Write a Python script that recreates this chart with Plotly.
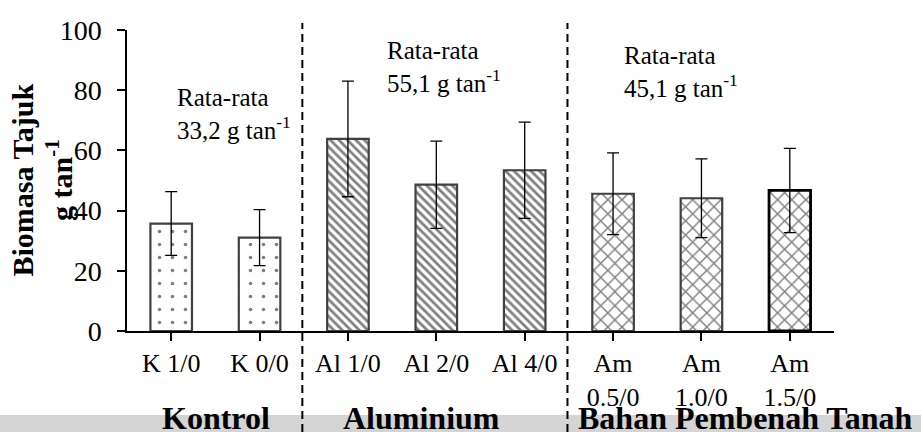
import plotly.graph_objects as go

categories = ["K 1/0", "K 0/0", "Al 1/0", "Al 2/0", "Al 4/0",
              "Am<br>0.5/0", "Am<br>1.0/0", "Am<br>1.5/0"]
biomass = [35.7, 31.0, 63.8, 48.6, 53.4, 45.6, 44.1, 46.7]
err = [10.6, 9.3, 19.2, 14.5, 16.0, 13.6, 13.1, 14.0]
patterns = [".", ".", "\\", "\\", "\\", "x", "x", "x"]
group_names = ["Kontrol", "Aluminium", "Bahan Pembenah Tanah"]
group_means = ["33,2", "55,1", "45,1"]
group_bounds = [2, 5]  # category index where a new group starts

FONT = "Liberation Serif, Times New Roman, serif"
W, H = 921, 432
ML, MR, MT, MB = 127, 87, 30, 101
PW, PH = W - ML - MR, H - MT - MB


def px_x(p):
    return (p - ML) / PW


def px_y(p):
    return (H - MB - p) / PH


sizes = {".": 13, "\\": 6, "x": 10}
solid = {".": 0.06, "\\": 0.45, "x": 0.27}

fig = go.Figure()
fig.add_trace(go.Bar(
    x=list(range(len(categories))),
    y=biomass,
    width=0.47,
    marker=dict(
        color="white",
        line=dict(color=["#404040"] * 7 + ["#000000"], width=[2.2] * 7 + [2.8]),
        pattern=dict(shape=patterns,
                     size=[sizes[p] for p in patterns],
                     solidity=[solid[p] for p in patterns],
                     fgcolor="black", bgcolor="white", fillmode="overlay"),
    ),
    error_y=dict(type="data", array=err, visible=True, color="black",
                 thickness=1.3, width=6),
    showlegend=False,
))

shapes = []
# light band at bottom of the picture
shapes.append(dict(type="rect", xref="paper", yref="paper",
                   x0=px_x(0), x1=px_x(W), y0=px_y(432), y1=px_y(415),
                   fillcolor="#d4d4d4", line=dict(width=0), layer="below"))
for b in group_bounds:
    xb = b / len(categories)
    shapes.append(dict(type="line", xref="paper", yref="paper",
                       x0=xb - 0.002, x1=xb - 0.002, y0=px_y(432), y1=px_y(23),
                       line=dict(color="black", width=2, dash="8px,5px")))

annotations = []
mean_pos = [(175, 114), (385, 67), (622, 72)]
for (xp, yp), m in zip(mean_pos, group_means):
    annotations.append(dict(
        xref="paper", yref="paper", x=px_x(xp), y=px_y(yp),
        xanchor="left", yanchor="middle", align="left", showarrow=False,
        text=f"Rata-rata<br>{m} g tan<sup>-1</sup>",
        font=dict(family=FONT, size=25, color="black")))

group_pos = [216, 421, 745]
for xp, g in zip(group_pos, group_names):
    annotations.append(dict(
        xref="paper", yref="paper", x=px_x(xp), y=px_y(418),
        xanchor="center", yanchor="middle", showarrow=False,
        text=f"<b>{g}</b>",
        font=dict(family=FONT, size=32, color="black")))

annotations.append(dict(
    xref="paper", yref="paper", x=px_x(41), y=0.5,
    xanchor="center", yanchor="middle", showarrow=False, textangle=-90,
    text="<b>Biomasa Tajuk<br>g tan<sup>-1</sup></b>",
    font=dict(family=FONT, size=30, color="black")))

fig.update_layout(
    width=W, height=H,
    margin=dict(l=ML, r=MR, t=MT, b=MB, pad=0),
    paper_bgcolor="white", plot_bgcolor="white",
    font=dict(family=FONT, color="black"),
    shapes=shapes,
    annotations=annotations,
    xaxis=dict(
        tickmode="array", tickvals=list(range(len(categories))), ticktext=categories,
        range=[-0.5, len(categories) - 0.5],
        tickson="boundaries", ticks="outside", ticklen=8, tickwidth=1.5,
        tickcolor="black", showline=True, linecolor="black", linewidth=1.5,
        showgrid=False, zeroline=False,
        tickfont=dict(family=FONT, size=26, color="black"),
    ),
    yaxis=dict(
        range=[0, 100], tickvals=[0, 20, 40, 60, 80, 100],
        ticks="outside", ticklen=8, tickwidth=1.5, tickcolor="black",
        ticklabelstandoff=10,
        showline=True, linecolor="black", linewidth=1.5,
        showgrid=False, zeroline=False,
        tickfont=dict(family=FONT, size=28, color="black"),
    ),
)

fig.write_html("out.html")
